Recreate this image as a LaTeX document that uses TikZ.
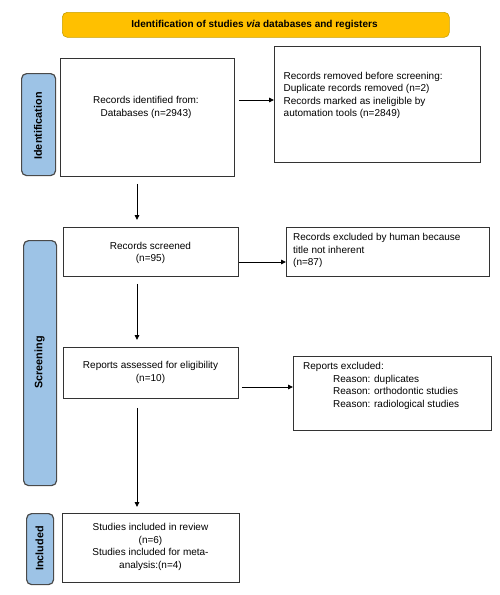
\documentclass[tikz,border=0pt]{standalone}
\usepackage{fontspec}
\setmainfont{Liberation Sans}
\usetikzlibrary{arrows.meta}
\definecolor{gold}{HTML}{FFC000}
\definecolor{goldline}{HTML}{C8A000}
\definecolor{sideblue}{HTML}{9DC3E6}
\definecolor{sideline}{HTML}{4A4A4A}
\definecolor{boxline}{HTML}{333333}
\begin{document}
\begin{tikzpicture}[x=1pt,y=-1pt,
  box/.style={draw=boxline, line width=0.9pt, fill=white, anchor=north west, inner sep=0pt},
  side/.style={draw=sideline, line width=1.2pt, fill=sideblue, rounded corners=5pt, anchor=north west, inner sep=0pt},
  bar/.style={draw=goldline, line width=0.6pt, fill=gold, rounded corners=5pt, anchor=north west, inner sep=0pt},
  txt/.style={inner sep=0pt, font=\fontsize{10}{12.4}\selectfont},
  sidetxt/.style={inner sep=0pt, rotate=90, font=\fontsize{10.8}{12}\selectfont\bfseries},
  arr/.style={line width=0.9pt, -{Triangle[length=5pt,width=4.5pt]}}
]
\useasboundingbox (0,0) rectangle (499,595);
% boxes
\node[bar, minimum width=387pt, minimum height=25pt] (title) at (62,12) {};
\node[side, minimum width=34pt, minimum height=102pt] (idside) at (21,73) {};
\node[box, minimum width=174pt, minimum height=118pt] (box1) at (60,58) {};
\node[box, minimum width=206pt, minimum height=116pt] (box2) at (274,46) {};
\node[side, minimum width=33pt, minimum height=245pt] (scrside) at (23,240) {};
\node[box, minimum width=175pt, minimum height=49pt] (scr) at (63,227) {};
\node[box, minimum width=203pt, minimum height=49pt] (exc1) at (286,227) {};
\node[box, minimum width=175pt, minimum height=51pt] (rep) at (63,347) {};
\node[box, minimum width=198pt, minimum height=74pt] (exc2) at (293,356) {};
\node[side, minimum width=27pt, minimum height=71pt] (incside) at (26,513) {};
\node[box, minimum width=177pt, minimum height=69pt] (inc) at (62,513) {};
% texts
\node[txt, font=\fontsize{10}{12}\selectfont\bfseries] (ttitle) at (254.5,24.5) {Identification of studies \textit{via} databases and registers};
\node[sidetxt] (tid) at (38,126) {Identification};
\node[sidetxt] (tscr) at (39.5,362.5) {Screening};
\node[sidetxt] (tinc) at (39.5,548.5) {Included};
\node[txt, align=center] (t1) at (146,107.5) {Records identified from:\\Databases (n=2943)};
\node[txt, align=left, anchor=west] (t2) at (283.5,95.5) {Records removed before screening:\\Duplicate records removed (n=2)\\Records marked as ineligible by\\automation tools (n=2849)};
\node[txt, align=center] (t3) at (150.5,253) {Records screened\\(n=95)};
\node[txt, align=left, anchor=west] (t4) at (293,250.5) {Records excluded by human because\\title not inherent\\(n=87)};
\node[txt, align=center] (t5) at (150.5,372.5) {Reports assessed for eligibility\\(n=10)};
\node[txt, align=left, anchor=west] (t6) at (303,386) {Reports excluded:\\\hspace*{30pt}Reason: duplicates\\\hspace*{30pt}Reason: orthodontic studies\\\hspace*{30pt}Reason: radiological studies};
\node[txt, align=center] (t7) at (150.5,547) {Studies included in review\\(n=6)\\Studies included for meta-\\analysis:(n=4)};
% connector helpers
\coordinate (col) at (137,0);
\coordinate (r1) at (0,100);
\coordinate (r2) at (0,262);
\coordinate (r3) at (0,387);
% connectors
\draw[arr, shorten <=4pt] (box1.east |- r1) -- (box2.west |- r1);
\draw[arr, shorten <=0.5pt] (scr.east |- r2) -- (exc1.west |- r2);
\draw[arr, shorten <=3pt] (rep.east |- r3) -- (exc2.west |- r3);
\draw[arr, shorten <=7pt, shorten >=7pt] (box1.south -| col) -- (scr.north -| col);
\draw[arr, shorten <=7pt, shorten >=7pt] (scr.south -| col) -- (rep.north -| col);
\draw[arr, shorten <=9pt, shorten >=6pt] (rep.south -| col) -- (inc.north -| col);
\end{tikzpicture}
\end{document}
